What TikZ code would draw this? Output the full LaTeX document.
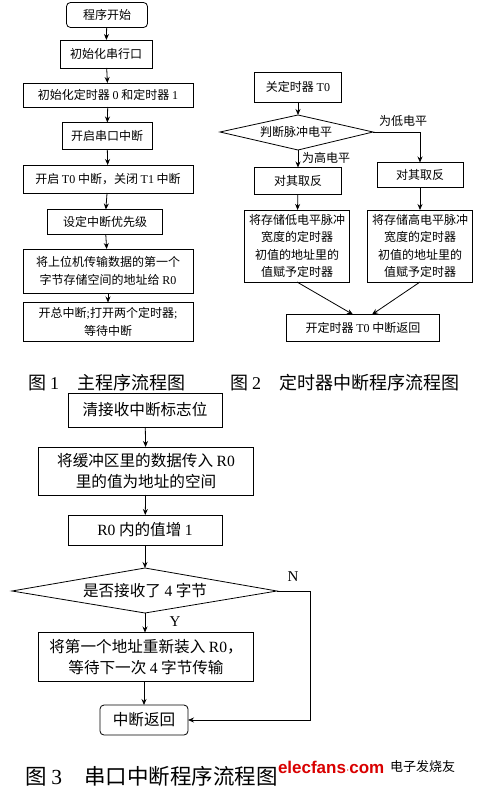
\documentclass[tikz,border=0pt]{standalone}
\usepackage{fontspec}
\setmainfont{Noto Sans CJK SC}
\newfontfamily\lat{Liberation Serif}
\newfontfamily\wmfont{Liberation Sans}
\usetikzlibrary{arrows.meta}
\newcommand{\LL}[1]{{\lat #1}}
\begin{document}
\begin{tikzpicture}[x=1pt,y=-1pt,
  every node/.style={inner sep=0pt, outer sep=0pt},
  boxa/.style={draw, line width=0.8pt, align=center, font=\fontsize{12}{17.5}\selectfont},
  boxb/.style={draw, line width=0.8pt, align=center, font=\fontsize{15.6}{20.5}\selectfont},
  rbox/.style={boxa, rounded corners=4pt},
  diaedge/.style={line width=0.8pt},
  lab/.style={font=\fontsize{12}{14}\selectfont},
  captext/.style={font=\fontsize{18}{20}\selectfont, anchor=west},
  arr/.style={-{Stealth[length=6pt,width=5pt]}, line width=0.8pt}
]
\useasboundingbox (0,0) rectangle (482,789);
\fill[white] (0,0) rectangle (482,789);

% ---------- Figure 1 ----------
\node[rbox, minimum width=81pt, minimum height=25pt] (f1s) at (107,15) {程序开始};
\node[boxa, minimum width=92pt, minimum height=28pt] (f1a) at (106,54) {初始化串行口};
\node[boxa, minimum width=170pt, minimum height=24pt] (f1b) at (108,95) {初始化定时器 \LL{0} 和定时器 \LL{1}};
\node[boxa, minimum width=90pt, minimum height=27pt] (f1c) at (107,136) {开启串口中断};
\node[boxa, minimum width=170pt, minimum height=28pt] (f1d) at (108,179) {开启 \LL{T0} 中断，关闭 \LL{T1} 中断};
\node[boxa, minimum width=115pt, minimum height=25pt] (f1e) at (105,222) {设定中断优先级};
\node[boxa, minimum width=170pt, minimum height=44pt] (f1f) at (108,271) {将上位机传输数据的第一个\\字节存储空间的地址给 \LL{R0}};
\node[boxa, minimum width=170pt, minimum height=39pt] (f1g) at (108,322) {开总中断\LL{;}打开两个定时器\LL{;}\\等待中断};
\draw[arr] (f1s) -- (f1a);
\draw[arr] (f1a) -- (f1b);
\draw[arr] (f1b) -- (f1c);
\draw[arr] (f1c) -- (f1d);
\draw[arr] (f1d) -- (f1e);
\draw[arr] (f1e) -- (f1f);
\draw[arr] (f1f) -- (f1g);

% ---------- Figure 2 ----------
\node[boxa, minimum width=87pt, minimum height=30pt] (f2a) at (298,87) {关定时器 \LL{T0}};
\coordinate (f2dN) at (298,115);
\coordinate (f2dE) at (373,132);
\coordinate (f2dS) at (298,150);
\coordinate (f2dW) at (220,132);
\draw[diaedge] (f2dN) -- (f2dE) -- (f2dS) -- (f2dW) -- cycle;
\node[font=\fontsize{12}{14}\selectfont] (f2d) at (296,132) {判断脉冲电平};
\node[boxa, minimum width=87pt, minimum height=27pt] (f2b) at (298,181) {对其取反};
\node[boxa, minimum width=86pt, minimum height=25pt] (f2c) at (420,175) {对其取反};
\node[boxa, minimum width=105pt, minimum height=72pt] (f2e) at (297,246) {将存储低电平脉冲\\宽度的定时器\\初值的地址里的\\值赋予定时器};
\node[boxa, minimum width=105pt, minimum height=72pt] (f2f) at (420,246) {将存储高电平脉冲\\宽度的定时器\\初值的地址里的\\值赋予定时器};
\node[boxa, minimum width=153pt, minimum height=27pt] (f2g) at (363,328) {开定时器 \LL{T0} 中断返回};
\coordinate (f2r) at (420,132);
\coordinate (f2gl) at (353,314.5);
\coordinate (f2gr) at (372,314.5);
\draw[arr] (f2a) -- (f2dN);
\draw[arr] (f2dS) -- (f2b);
\draw[arr] (f2dE) -- (f2r) -- (f2c);
\draw[arr] (f2b) -- (f2e);
\draw[arr] (f2c) -- (f2f);
\draw[arr] (f2e.south) -- (f2gl);
\draw[arr] (f2f.south) -- (f2gr);
\node[lab] (l2a) at (326,158) {为高电平};
\node[lab] (l2b) at (403,121) {为低电平};

% ---------- Captions 1 and 2 ----------
\node[captext] (c1) at (28,383) {图 \LL{1}\hspace{18pt}主程序流程图};
\node[captext] (c2) at (230,383) {图 \LL{2}\hspace{18pt}定时器中断程序流程图};

% ---------- Figure 3 ----------
\node[boxb, minimum width=154pt, minimum height=34pt] (f3a) at (145,410) {清接收中断标志位};
\node[boxb, minimum width=215pt, minimum height=48pt] (f3b) at (146,471) {将缓冲区里的数据传入 \LL{R0}\\里的值为地址的空间};
\node[boxb, minimum width=154pt, minimum height=30pt] (f3c) at (145,530) {\LL{R0} 内的值增 \LL{1}};
\coordinate (f3dN) at (145,568);
\coordinate (f3dE) at (277,591);
\coordinate (f3dS) at (145,613);
\coordinate (f3dW) at (12,591);
\draw[diaedge] (f3dN) -- (f3dE) -- (f3dS) -- (f3dW) -- cycle;
\node[font=\fontsize{15.6}{20}\selectfont] (f3d) at (145,591) {是否接收了 \LL{4} 字节};
\node[boxb, minimum width=215pt, minimum height=49pt] (f3e) at (146,657) {将第一个地址重新装入 \LL{R0}，\\等待下一次 \LL{4} 字节传输};
\node[boxb, rounded corners=4pt, minimum width=88pt, minimum height=30pt] (f3f) at (144,720) {中断返回};
\coordinate (f3n1) at (310,591);
\coordinate (f3n2) at (310,720);
\draw[arr] (f3a) -- (f3b);
\draw[arr] (f3b) -- (f3c);
\draw[arr] (f3c) -- (f3dN);
\draw[arr] (f3dS) -- (f3e.north -| f3dS);
\draw[arr] (f3e.south -| f3f) -- (f3f);
\draw[arr] (f3dE) -- (f3n1) -- (f3n2) -- (f3f.east);
\node[font=\lat\fontsize{15}{18}\selectfont] (ln) at (293,577) {N};
\node[font=\lat\fontsize{15}{18}\selectfont] (ly) at (175,622) {Y};

% ---------- Caption 3 and watermark ----------
\node[captext, font=\fontsize{21.5}{24}\selectfont] (c3) at (25,776) {图 \LL{3}\hspace{22pt}串口中断程序流程图};
\node[fill=white, inner sep=2pt, anchor=west, text=red!85!black, font=\wmfont\bfseries\fontsize{17}{18}\selectfont] (wm) at (276,767) {elecfans{\fontsize{12}{12}\selectfont$\cdot$}com};
\node[anchor=west, font=\fontsize{13}{14}\selectfont] (wm2) at (390,767) {电子发烧友};
\end{tikzpicture}
\end{document}
